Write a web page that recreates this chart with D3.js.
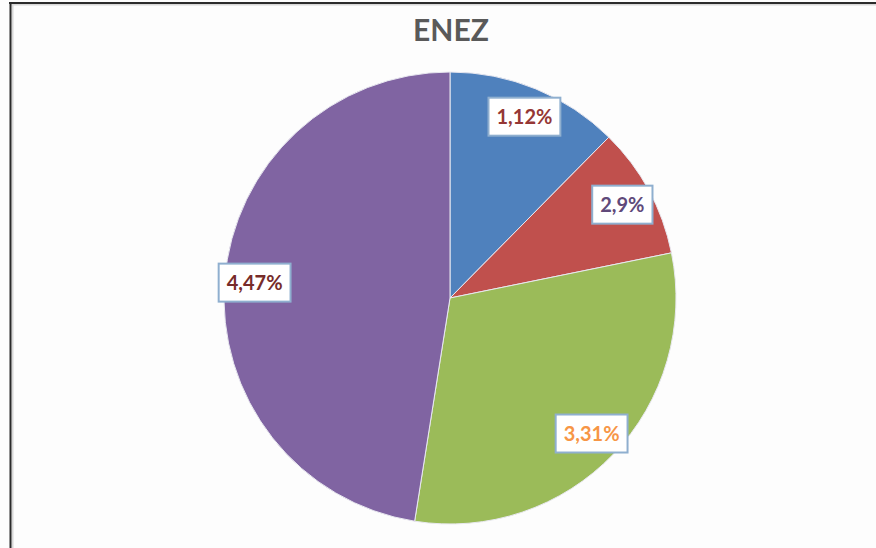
<!DOCTYPE html>
<html>
<head>
<meta charset="utf-8">
<script src="https://cdn.jsdelivr.net/npm/d3@7"></script>
<style>
  body { margin: 0; background: #fff; }
  svg { display: block; }
</style>
</head>
<body>
<div id="chart-area"></div>
<script>
// slice shares (angles), and the printed labels
var categories = ["A", "B", "C", "D"];
var shares = [12.4, 9.4, 30.7, 47.5];
var labels = ["1,12%", "2,9%", "3,31%", "4,47%"];
var colors = ["#4f81bd", "#c0504d", "#9bbb59", "#8064a2"];
var labelColors = ["#953735", "#60497a", "#f79646", "#772c2a"];
var title = "ENEZ";

var width = 876;
var height = 548;
var cx = 450, cy = 298, radius = 226;

var svg = d3.select("#chart-area")
  .append("svg")
  .attr("width", width)
  .attr("height", height);

svg.append("rect")
  .attr("width", width).attr("height", height)
  .attr("fill", "#fdfdfd");

// frame: dark top and left lines with a soft shadow
svg.append("line").attr("x1", 10).attr("x2", width).attr("y1", 4.5).attr("y2", 4.5)
  .attr("stroke", "#d8d8d8").attr("stroke-width", 2);
svg.append("line").attr("x1", 12.5).attr("x2", 12.5).attr("y1", 4).attr("y2", height)
  .attr("stroke", "#d8d8d8").attr("stroke-width", 2);
svg.append("line").attr("x1", 9).attr("x2", width).attr("y1", 3).attr("y2", 3)
  .attr("stroke", "#2b2b2b").attr("stroke-width", 2);
svg.append("line").attr("x1", 10.5).attr("x2", 10.5).attr("y1", 2).attr("y2", height)
  .attr("stroke", "#2b2b2b").attr("stroke-width", 2);

svg.append("text")
  .attr("x", cx + 1)
  .attr("y", 41)
  .attr("text-anchor", "middle")
  .attr("font-family", "Lato, 'Liberation Sans', sans-serif")
  .attr("font-weight", "bold")
  .attr("font-size", "30px")
  .attr("fill", "#595959")
  .text(title);

var data = categories.map((c, i) => ({cat: c, value: shares[i], label: labels[i], i: i}));

var pie = d3.pie().sort(null).value((d) => d.value);
var arc = d3.arc().innerRadius(0).outerRadius(radius);
var labelArc = d3.arc().innerRadius(196).outerRadius(196);

var g = svg.append("g").attr("transform", "translate(" + cx + "," + cy + ")");
var arcs = pie(data);

g.selectAll("path.slice")
  .data(arcs)
  .enter()
  .append("path")
  .attr("class", "slice")
  .attr("d", arc)
  .attr("fill", (d) => colors[d.data.i])
  .attr("stroke", "#e8e8f0")
  .attr("stroke-width", 1);

var lab = g.selectAll("g.lab")
  .data(arcs)
  .enter()
  .append("g")
  .attr("class", "lab")
  .attr("transform", (d) => "translate(" + labelArc.centroid(d) + ")");

var rects = lab.append("rect")
  .attr("fill", "#ffffff")
  .attr("stroke", "#8fafcf")
  .attr("stroke-width", 2);

var texts = lab.append("text")
  .attr("text-anchor", "middle")
  .attr("dy", "0.36em")
  .attr("font-family", "Lato, 'Liberation Sans', sans-serif")
  .attr("font-weight", "bold")
  .attr("font-size", "20px")
  .attr("fill", (d) => labelColors[d.data.i])
  .text((d) => d.data.label);

texts.each(function(d) {
  var w = this.getComputedTextLength();
  d3.select(this.parentNode).select("rect")
    .attr("x", -w / 2 - 8)
    .attr("y", -19)
    .attr("width", w + 16)
    .attr("height", 38);
});
</script>
</body>
</html>
